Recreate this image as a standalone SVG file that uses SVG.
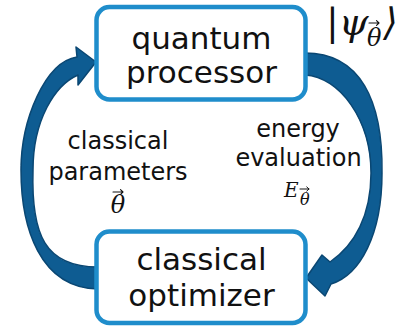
<svg xmlns="http://www.w3.org/2000/svg" width="409" height="327" viewBox="0 0 409 327">
<style>
.box{fill:#fff;stroke:#1f8dcb;stroke-width:4.5}
.arr{fill:#0e5c92;stroke:#0a4773;stroke-width:1.5;stroke-linejoin:round}
.lbl{font-family:"DejaVu Sans",Verdana,sans-serif;fill:#111;text-anchor:middle}
.big{font-size:31px}
.mid{font-size:24px}
.math{font-family:"DejaVu Serif","Liberation Serif",serif;font-style:italic;fill:#111}
.vec{fill:none;stroke:#111;stroke-width:1.1;stroke-linecap:round;stroke-linejoin:round}
</style>
<defs>
<path id="vecarrow" class="vec" d="M0,0 H10 M7.5,-2.3 L10,0 L7.5,2.3"/>
</defs>
<rect width="409" height="327" fill="#fff"/>
<g id="connectors">
<path class="arr" d="M98,289 C40,288 21,228 21,170 C21,120 45,62 77,57 L76,47 L96,62 L78,85 L78,75 C55,85 33,120 33,170 C31,235 45,267 98,267 Z"/>
<path class="arr" d="M305,53 C360,53 383,100 382,173 C382,235 360,275 331,284 L325,296 L306,278 L322,255 L330,262 C355,245 371,215 371,173 C371,120 340,77 305,75 Z"/>
</g>
<g id="quantum-processor">
<rect class="box" x="96.5" y="7" width="209" height="92.5" rx="13"/>
<text class="lbl big" x="201.5" y="49">quantum</text>
<text class="lbl big" x="201.5" y="83">processor</text>
</g>
<g id="classical-optimizer">
<rect class="box" x="96.5" y="231.5" width="209" height="91.5" rx="13"/>
<text class="lbl big" x="201.5" y="270">classical</text>
<text class="lbl big" x="201.5" y="306">optimizer</text>
</g>
<g id="labels">
<text class="lbl mid" x="118" y="149">classical</text>
<text class="lbl mid" x="118" y="180">parameters</text>
<text class="math" x="118" y="213" font-size="24" text-anchor="middle">θ</text>
<use href="#vecarrow" x="113" y="192"/>
<text class="lbl mid" x="298" y="137">energy</text>
<text class="lbl mid" x="298.5" y="166">evaluation</text>
<text class="math" x="284" y="197" font-size="20">E</text>
<text class="math" x="300" y="205" font-size="16">θ</text>
<use href="#vecarrow" x="300" y="189" transform="translate(300,189) scale(0.9) translate(-300,-189)"/>
<text class="math" x="326" y="35" font-size="38"><tspan font-style="normal">|</tspan>ψ</text>
<text class="math" x="367" y="46" font-size="24">θ</text>
<use href="#vecarrow" x="369" y="23"/>
<text class="math" x="383" y="35" font-size="38" font-style="normal">⟩</text>
</g>
</svg>
